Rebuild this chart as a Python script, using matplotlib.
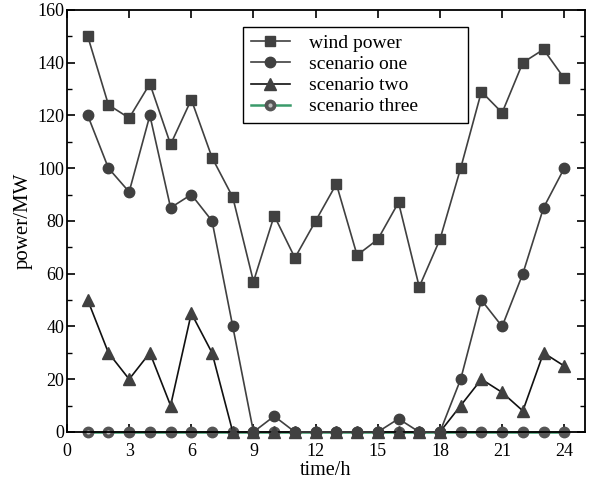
import matplotlib
matplotlib.use("Agg")
import matplotlib.pyplot as plt
from matplotlib.ticker import MultipleLocator
from matplotlib.legend_handler import HandlerTuple

hours = list(range(1, 25))
wind_power = [150, 124, 119, 132, 109, 126, 104, 89, 57, 82, 66, 80,
              94, 67, 73, 87, 55, 73, 100, 129, 121, 140, 145, 134]
scenario_one = [120, 100, 91, 120, 85, 90, 80, 40, 0, 6, 0, 0,
                0, 0, 0, 5, 0, 0, 20, 50, 40, 60, 85, 100]
scenario_two = [50, 30, 20, 30, 10, 45, 30, 0, 0, 0, 0, 0,
                0, 0, 0, 0, 0, 0, 10, 20, 15, 8, 30, 25]
scenario_three = [0] * 24

plt.rcParams['font.family'] = ['Liberation Serif', 'DejaVu Serif']
plt.rcParams['font.size'] = 13

fig = plt.figure(figsize=(5.95, 4.88), dpi=100)
ax = fig.add_axes([0.1126, 0.1148, 0.8706, 0.865])

dark = '#404040'
h3, = ax.plot(hours, scenario_three, color='#3a9a6a', lw=1.8, marker='o', ms=7.5,
              mfc='#555555', mec='#555555', zorder=2, clip_on=False)
h3b, = ax.plot(hours, scenario_three, ls='none', marker='o', ms=3.0,
               mfc='#bdbdbd', mec='none', markevery=[0, 1], zorder=2.1, clip_on=False)
h2, = ax.plot(hours, scenario_two, color='#111111', lw=1.2, marker='^', ms=8.5,
              mfc=dark, mec=dark, zorder=3, clip_on=False)
h1, = ax.plot(hours, scenario_one, color=dark, lw=1.2, marker='o', ms=7.5,
              mfc=dark, mec=dark, zorder=4, clip_on=False)
h0, = ax.plot(hours, wind_power, color=dark, lw=1.2, marker='s', ms=7,
              mfc=dark, mec=dark, zorder=5, clip_on=False)

ax.set_xlim(0, 25)
ax.set_ylim(0, 160)
ax.xaxis.set_major_locator(MultipleLocator(3))
ax.yaxis.set_major_locator(MultipleLocator(20))
ax.yaxis.set_minor_locator(MultipleLocator(10))
ax.tick_params(which='both', direction='in', top=True, right=True)
ax.tick_params(which='major', length=6, width=1.2)
ax.tick_params(which='minor', length=3.5, width=1.0)
ax.tick_params(axis='x', which='minor', bottom=False, top=False)
ax.tick_params(axis='x', which='major', pad=8)
ax.tick_params(axis='y', which='major', pad=2)
for s in ax.spines.values():
    s.set_linewidth(1.3)

ax.set_xlabel('time/h', fontsize=14.5, labelpad=1)
ax.set_ylabel('power/MW', fontsize=15, labelpad=3)

leg = ax.legend([h0, h1, h2, (h3, h3b)],
                ['wind power', 'scenario one', 'scenario two', 'scenario three'],
                handler_map={tuple: HandlerTuple(ndivide=1)},
                loc='upper left', bbox_to_anchor=(0.34, 0.76, 0.434, 0.2),
                mode='expand', borderaxespad=0,
                frameon=True, fancybox=False, edgecolor='black',
                framealpha=1, handlelength=2.0, handletextpad=1.0,
                borderpad=0.4, labelspacing=0.18, fontsize=14)
leg.get_frame().set_linewidth(1.0)

fig.savefig('out.png', dpi=100)
